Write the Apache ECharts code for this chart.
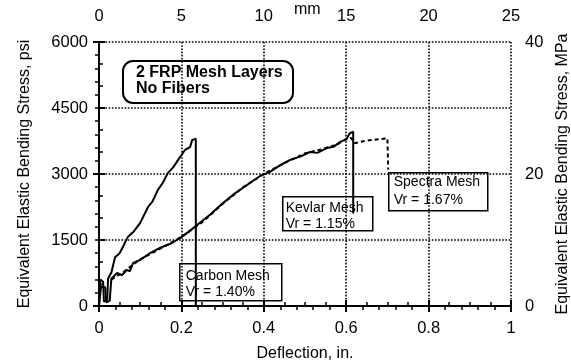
<!DOCTYPE html>
<html>
<head>
<meta charset="utf-8">
<script src="https://cdn.jsdelivr.net/npm/echarts@6/dist/echarts.min.js"></script>
<style>
  html, body { margin: 0; padding: 0; background: #fff; }
  #chart { width: 571px; height: 362px; }
</style>
</head>
<body>
<div id="chart"></div>
<script>
// deflection (in.) and stress (psi)
const carbonX = [0, 0.003, 0.01, 0.012, 0.02, 0.022, 0.03, 0.039, 0.05, 0.058, 0.07, 0.085, 0.1, 0.119, 0.13, 0.143, 0.155, 0.167, 0.18, 0.192, 0.209, 0.221, 0.226, 0.235, 0.235];
const carbonY = [0, 600, 550, 100, 150, 620, 760, 1110, 1200, 1340, 1570, 1700, 1890, 2250, 2380, 2640, 2800, 3020, 3150, 3320, 3550, 3610, 3770, 3800, 0];

const kevlarX = [0, 0.005, 0.015, 0.018, 0.026, 0.03, 0.044, 0.055, 0.068, 0.075, 0.083, 0.1, 0.124, 0.15, 0.175, 0.197, 0.218, 0.238, 0.27, 0.301, 0.33, 0.367, 0.39, 0.415, 0.44, 0.464, 0.49, 0.512, 0.53, 0.553, 0.57, 0.585, 0.6, 0.609, 0.617, 0.617];
const kevlarY = [0, 450, 420, 80, 120, 620, 750, 700, 820, 790, 980, 1050, 1200, 1330, 1420, 1545, 1690, 1840, 2080, 2340, 2560, 2800, 2950, 3050, 3200, 3320, 3400, 3500, 3480, 3590, 3620, 3730, 3780, 3930, 3960, 2100];

const spectraX = [0.03, 0.06, 0.1, 0.15, 0.2, 0.25, 0.3, 0.35, 0.4, 0.45, 0.5, 0.54, 0.58, 0.6, 0.612, 0.62, 0.65, 0.68, 0.7, 0.702];
const spectraY = [600, 780, 1060, 1310, 1570, 1900, 2320, 2700, 3000, 3250, 3470, 3560, 3680, 3800, 3820, 3700, 3760, 3790, 3810, 3100];

const xTicks = [0, 0.2, 0.4, 0.6, 0.8, 1];
const mmTicks = [0, 5, 10, 15, 20, 25];
const psiTicks = [0, 1500, 3000, 4500, 6000];
const mpaTicks = [0, 20, 40];

const pairs = (xs, ys) => xs.map((x, i) => [x, ys[i]]);

const FONT = "Liberation Sans, Arial, sans-serif";
const black = "#000";

const chart = echarts.init(document.getElementById("chart"), null, { renderer: "canvas" });

const axisBase = {
  type: "value",
  axisLine: { show: true, lineStyle: { color: black, width: 2 } },
  axisTick: { show: true, inside: true, length: 6, lineStyle: { color: black, width: 2 } },
  minorTick: { show: true, length: 4, lineStyle: { color: black, width: 1.5 } },
  axisLabel: { color: black, fontSize: 16.5, fontFamily: FONT, formatter: (v) => String(+v.toFixed(1)) },
  nameTextStyle: { color: black, fontSize: 16, fontFamily: FONT },
  splitLine: { show: false },
};
// dotted grid lines
const dotted = () => ({ show: true, lineStyle: { color: black, type: "dotted", width: 1.6 } });

const option = {
  animation: false,
  backgroundColor: "#fff",
  grid: { left: 99, right: 60, top: 42, bottom: 56, outerBoundsMode: "none", containLabel: false },
  xAxis: [
    Object.assign({}, axisBase, {
      position: "bottom",
      min: xTicks[0], max: xTicks[xTicks.length - 1], interval: 0.2,
      name: "Deflection, in.", nameLocation: "middle", nameGap: 40,
      minorTick: Object.assign({}, axisBase.minorTick, { splitNumber: 4 }),
      axisLabel: Object.assign({}, axisBase.axisLabel, { margin: 14 }),
      splitLine: dotted(),
    }),
    Object.assign({}, axisBase, {
      position: "top",
      min: mmTicks[0], max: mmTicks[mmTicks.length - 1], interval: 5,
      minorTick: Object.assign({}, axisBase.minorTick, { splitNumber: 5 }),
      axisLabel: Object.assign({}, axisBase.axisLabel, { margin: 17 }),
    }),
  ],
  yAxis: [
    Object.assign({}, axisBase, {
      position: "left",
      min: psiTicks[0], max: psiTicks[psiTicks.length - 1], interval: 1500,
      name: "Equivalent Elastic Bending Stress, psi", nameLocation: "middle", nameGap: 66,
      minorTick: Object.assign({}, axisBase.minorTick, { splitNumber: 3 }),
      axisLabel: Object.assign({}, axisBase.axisLabel, { margin: 11 }),
      splitLine: dotted(),
    }),
    Object.assign({}, axisBase, {
      position: "right",
      min: mpaTicks[0], max: mpaTicks[mpaTicks.length - 1], interval: 20,
      name: "Equivalent Elastic Bending Stress, MPa", nameLocation: "middle", nameGap: 36,
      minorTick: Object.assign({}, axisBase.minorTick, { splitNumber: 10 }),
      axisLabel: Object.assign({}, axisBase.axisLabel, { margin: 14 }),
    }),
  ],
  series: [
    {
      name: "Spectra Mesh", type: "line", xAxisIndex: 0, yAxisIndex: 0,
      data: pairs(spectraX, spectraY), showSymbol: false, symbol: "none",
      lineStyle: { color: black, width: 2, type: [4, 3] },
    },
    {
      name: "Kevlar Mesh", type: "line", xAxisIndex: 0, yAxisIndex: 0,
      data: pairs(kevlarX, kevlarY), showSymbol: false, symbol: "none",
      lineStyle: { color: black, width: 2 },
    },
    {
      name: "Carbon Mesh", type: "line", xAxisIndex: 0, yAxisIndex: 0,
      data: pairs(carbonX, carbonY), showSymbol: false, symbol: "none",
      lineStyle: { color: black, width: 2 },
    },
  ],
  graphic: [
    // unit of the top axis
    { type: "text", left: 294, top: 2, z: 100, style: { text: "mm", font: "16px " + FONT, fill: black } },
    // title box
    {
      type: "group", left: 122, top: 60, z: 100,
      children: [
        { type: "rect", shape: { x: 0, y: 0, width: 170, height: 42, r: 10 }, style: { fill: "#fff", stroke: black, lineWidth: 2 } },
        { type: "text", style: { x: 13, y: 4, text: "2 FRP Mesh Layers\nNo Fibers", font: "bold 16px " + FONT, fill: black, lineHeight: 16 } },
      ],
    },
    {
      type: "group", left: 179, top: 263, z: 100,
      children: [
        { type: "rect", shape: { x: 0, y: 0, width: 102, height: 37 }, style: { fill: "#fff", stroke: black, lineWidth: 1.5 } },
        { type: "text", style: { x: 6, y: 4, text: "Carbon Mesh\nVr = 1.40%", font: "14px " + FONT, fill: black, lineHeight: 16 } },
      ],
    },
    {
      type: "group", left: 282, top: 196, z: 100,
      children: [
        { type: "rect", shape: { x: 0, y: 0, width: 90, height: 34 }, style: { fill: "#fff", stroke: black, lineWidth: 1.5 } },
        { type: "text", style: { x: 3, y: 3, text: "Kevlar Mesh\nVr = 1.15%", font: "14px " + FONT, fill: black, lineHeight: 16 } },
      ],
    },
    {
      type: "group", left: 388, top: 172, z: 100,
      children: [
        { type: "rect", shape: { x: 0, y: 0, width: 99, height: 38 }, style: { fill: "#fff", stroke: black, lineWidth: 1.5 } },
        { type: "text", style: { x: 5, y: 0, text: "Spectra Mesh\nVr = 1.67%", font: "14px " + FONT, fill: black, lineHeight: 18 } },
      ],
    },
  ],
};

chart.setOption(option);
</script>
</body>
</html>
